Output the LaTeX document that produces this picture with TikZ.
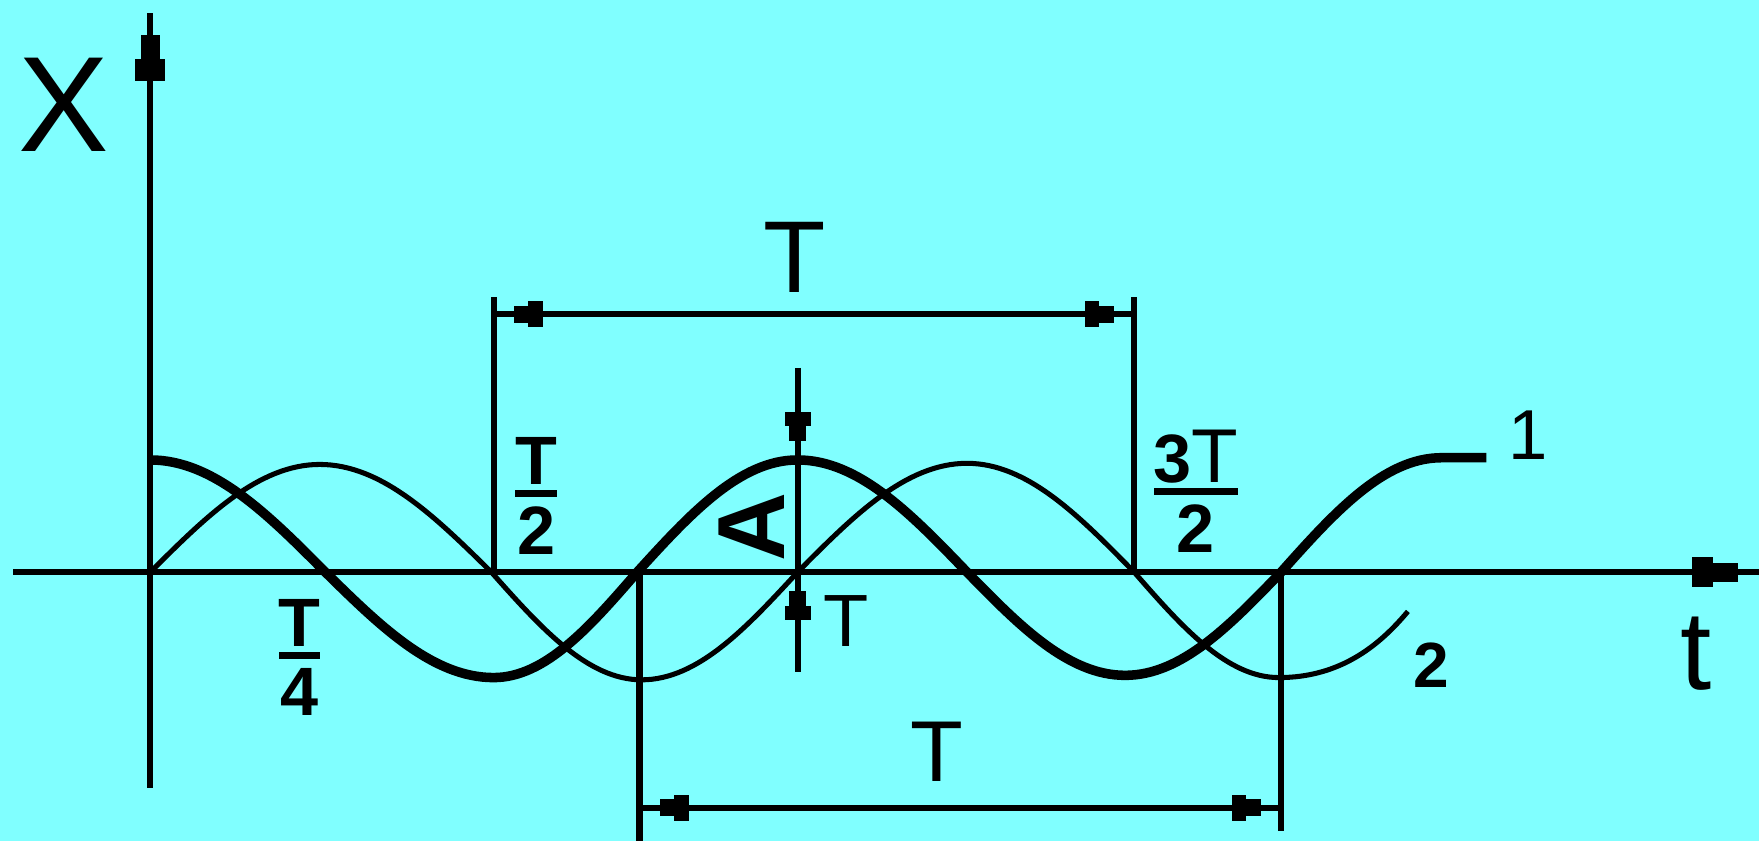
\documentclass[tikz,border=0pt]{standalone}
\usepackage{fontspec}
\setmainfont{Liberation Sans}
\usepackage{xcolor}
\usepackage{tikz}
\usetikzlibrary{arrows.meta,decorations.markings}

\definecolor{bgcyan}{RGB}{128,255,255}

\tikzset{
    blk/.tip={Rectangle[length=13pt,width=23pt] Rectangle[length=13pt,width=15pt]},
    axisblk/.tip={Rectangle[length=19pt,width=27pt] Rectangle[length=22pt,width=17pt]}
}

% stacked fraction with a heavy bar
\newcommand{\vfrac}[2]{{\renewcommand{\arraystretch}{0}\setlength{\arrayrulewidth}{6pt}%
    \begin{tabular}{@{}c@{}}#1\\[5pt]\hline\noalign{\vskip 9pt}#2\end{tabular}}}

\begin{document}
\begin{tikzpicture}[
        x=1pt, y=-1pt,
        axisln/.style={line width=5.5pt},
        axisarrow/.style={axisln, postaction={decorate},
            decoration={markings, mark=at position -19pt with {\arrow{axisblk}}}},
        thincurve/.style={line width=4.5pt},
        thickcurve/.style={line width=8.5pt},
        dimln/.style={line width=5.5pt},
        dimboth/.style={dimln, postaction={decorate},
            decoration={markings, mark=at position 18pt with {\arrowreversed{blk}},
                mark=at position -18pt with {\arrow{blk}}}},
        dimend/.style={dimln, postaction={decorate},
            decoration={markings, mark=at position -17pt with {\arrow{blk}}}},
        fs/.style={font=\fontsize{#1}{#1}\selectfont, inner sep=0pt},
        bfs/.style={font=\fontsize{#1}{#1}\selectfont\bfseries, inner sep=0pt}
    ]
        \useasboundingbox (0,0) rectangle (1568,750);
        \fill[bgcyan] (0,0) rectangle (1568,750);

        % Axes
        \coordinate (o) at (134,510);
        \coordinate (xl) at (12,510);
        \coordinate (xr) at (1568,510);
        \coordinate (yb) at (134,702);
        \coordinate (yt) at (134,12);
        \draw[axisarrow] (xl) -- (xr);
        \draw[axisarrow] (yb) -- (yt);
        \node[fs=121] (xlab) at (57,93) {X};
        \node[fs=100] (tlab) at (1512,583) {t};

        % Curve 1 (thick) and curve 2 (thin)
        \draw[thickcurve] (134,410) cos (290,510) sin (440,604) cos (568,510) sin (711,410)
            cos (862,510) sin (1003,602) cos (1142,510) sin (1285,408) -- (1325,408);
        \draw[thincurve] (o) sin (285,414) cos (438,510) sin (572,606) cos (711,510)
            sin (862,413) cos (1011,510) sin (1140,604) .. controls (1195,604) and (1230,575) .. (1255,545);
        \node[fs=63] (one) at (1362,388) {1};
        \node[bfs=57] (two) at (1276,593) {2};

        % Upper period
        \coordinate (h1) at (440,510);
        \coordinate (h1t) at (440,265);
        \coordinate (h3) at (1011,510);
        \coordinate (h3t) at (1011,265);
        \coordinate (hd1) at (440,280);
        \coordinate (hd3) at (1011,280);
        \draw[dimln] (h1) -- (h1t);
        \draw[dimln] (h3) -- (h3t);
        \draw[dimboth] (hd1) -- (hd3);
        \node[fs=91] (ttop) at (708,229) {T};

        % Lower period
        \coordinate (b1) at (570,510);
        \coordinate (b1b) at (570,750);
        \coordinate (b2) at (1142,510);
        \coordinate (b2b) at (1142,741);
        \coordinate (bd1) at (570,720);
        \coordinate (bd2) at (1142,720);
        \draw[dimln] (b1) -- (b1b);
        \draw[dimln] (b2) -- (b2b);
        \draw[dimboth] (bd1) -- (bd2);
        \node[fs=77] (tbot) at (835,670) {T};

        % Amplitude
        \coordinate (atop) at (711,328);
        \coordinate (apk) at (711,410);
        \coordinate (az) at (711,510);
        \coordinate (abot) at (711,599);
        \draw[dimend] (atop) -- (apk);
        \draw[dimln] (apk) -- (az);
        \draw[dimend] (abot) -- (az);
        \node[bfs=85, rotate=90] (alab) at (670,470) {A};
        \node[fs=66] (tsmall) at (754,554) {T};

        % Fractions on the time axis
        \node[bfs=61] (quarter) at (267,586) {\vfrac{T}{4}};
        \node[bfs=61] (half) at (478,442) {\vfrac{T}{2}};
        \node[bfs=61] (threehalf) at (1066,438)
            {\vfrac{3{\mdseries\fontsize{68}{68}\selectfont T}}{2}};
    \end{tikzpicture}
\end{document}
